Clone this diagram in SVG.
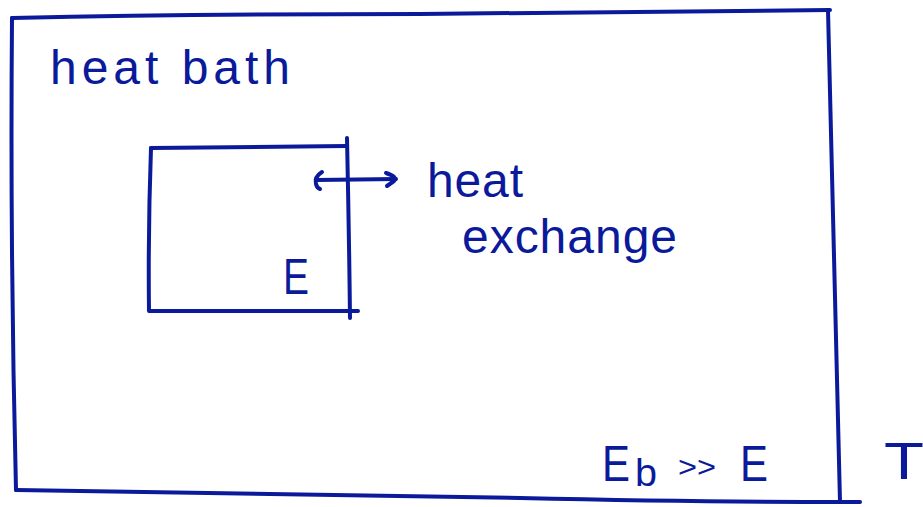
<svg xmlns="http://www.w3.org/2000/svg" width="923" height="507" viewBox="0 0 923 507">
<style>
.ln{fill:none;stroke:#0b1a9a;stroke-width:4;stroke-linecap:round;stroke-linejoin:round}
.tx{fill:#0b1a9a;font-family:"Liberation Sans",Arial,sans-serif}
</style>
<rect width="923" height="507" fill="#fff"/>
<g id="bath">
<path class="ln" d="M12,18 Q200,14 420,14 Q620,12 830,10"/>
<path class="ln" d="M12,18 Q10,250 16,490"/>
<path class="ln" d="M16,490 Q300,494 520,498 Q700,502 845,502"/>
<path class="ln" d="M828,10 Q833,250 840,502 L860,502"/>
<text class="tx" x="50" y="84" font-size="48" textLength="240" lengthAdjust="spacing">heat bath</text>
<text class="tx" x="602" y="481" font-size="50" textLength="28" lengthAdjust="spacingAndGlyphs">E</text>
<text class="tx" x="635" y="486" font-size="38" textLength="22" lengthAdjust="spacingAndGlyphs">b</text>
<text class="tx" x="678" y="477" font-size="30" textLength="38" lengthAdjust="spacingAndGlyphs">&gt;&gt;</text>
<text class="tx" x="740" y="481" font-size="50" textLength="28" lengthAdjust="spacingAndGlyphs">E</text>
<text class="tx" x="884" y="479" font-size="52" textLength="40" lengthAdjust="spacingAndGlyphs">T</text>
</g>
<g id="system">
<path class="ln" d="M151,148 L347,146"/>
<path class="ln" d="M151,148 Q148,230 149,311 L358,311"/>
<path class="ln" d="M347,138 Q349,230 350,318"/>
<text class="tx" x="283" y="294" font-size="50" textLength="26" lengthAdjust="spacingAndGlyphs">E</text>
</g>
<g id="connectors">
<path class="ln" d="M316,180 L396,179"/>
<path class="ln" d="M322,172 Q314,177 316,184 Q317,188 320,189"/>
<path class="ln" d="M386,173 Q398,177 394,181 L387,186"/>
</g>
<g id="exchange">
<text class="tx" x="427" y="197" font-size="48" textLength="96" lengthAdjust="spacing">heat</text>
<text class="tx" x="462" y="253" font-size="48" textLength="215" lengthAdjust="spacing">exchange</text>
</g>
</svg>
